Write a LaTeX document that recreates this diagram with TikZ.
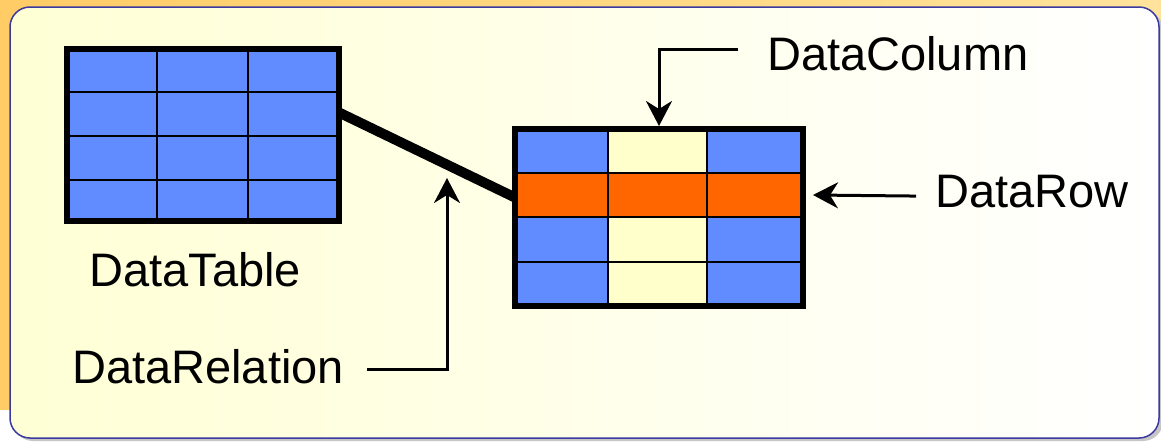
\documentclass[tikz,border=0pt]{standalone}
\usepackage{fontspec}
\setmainfont{Liberation Sans}
\usepackage{tikz}
\usetikzlibrary{arrows.meta, calc}
\definecolor{cellblue}{HTML}{618CFF}
\definecolor{roworange}{HTML}{FF6600}
\definecolor{colyellow}{HTML}{FFFFCC}
\definecolor{framefill}{HTML}{FFFFD5}
\definecolor{frameline}{HTML}{3A3AA0}
\definecolor{bgorange}{HTML}{FFCC66}
\definecolor{bglight}{HTML}{FFE39C}

\begin{document}
\begin{tikzpicture}[x=1pt, y=-1pt,
  lbl/.style={anchor=base west, inner sep=3pt, font=\fontsize{47}{52}\selectfont},
  pointer/.style={line width=3pt, -{Stealth[length=25pt, width=26pt, inset=8pt]}}]
\useasboundingbox (0,0) rectangle (1161,442);
% background and frame
\shade[left color=bgorange, right color=bglight] (0,0) rectangle (1161,409);
\fill[gray!45, rounded corners=20pt] (13,10) rectangle (1163,441);
\draw[frameline, line width=1.5pt, rounded corners=20pt, left color=framefill, right color=white] (10,7) rectangle (1159,438);

% relation between the tables
\coordinate (dtout) at (338,112);
\coordinate (dcin) at (516,198);
\draw[line width=10pt] (dtout) -- (dcin);

% DataTable
\fill[cellblue] (64,46) rectangle (342,224);
\foreach \x in {157,248}{
\draw[line width=2pt] (\x,46) -- (\x,224);
}
\foreach \y in {92,136,180}{
\draw[line width=2pt] (64,\y) -- (342,\y);
}
\draw[line width=6pt] (67,49) rectangle (339,221);

% related table with one column and one row marked
\fill[cellblue] (512,126) rectangle (806,309);
\fill[colyellow] (608,126) rectangle (707,309);
\fill[roworange] (512,173) rectangle (806,217);
\foreach \x in {608,707}{
\draw[line width=2pt] (\x,126) -- (\x,309);
}
\foreach \y in {173,217,262}{
\draw[line width=2pt] (512,\y) -- (806,\y);
}
\draw[line width=6pt] (515,129) rectangle (803,306);

\coordinate (colhead) at (659,126);
\coordinate (rowtip) at (813,195);
\coordinate (reltip) at (447,178);

% labels
\node[lbl] (dcol) at (764,70) {DataColumn};
\node[lbl] (drow) at (932,207) {DataRow};
\node[lbl] (dtab) at (86,286) {DataTable};
\node[lbl] (drel) at (69,383) {DataRelation};

\draw[pointer] ($(dcol.west)+(-26,-4)$) -| (colhead);
\draw[pointer] ($(drow.west)+(-16,5)$) -- (rowtip);
\draw[pointer] ($(drel.east)+(20,3)$) -| (reltip);
\end{tikzpicture}
\end{document}
